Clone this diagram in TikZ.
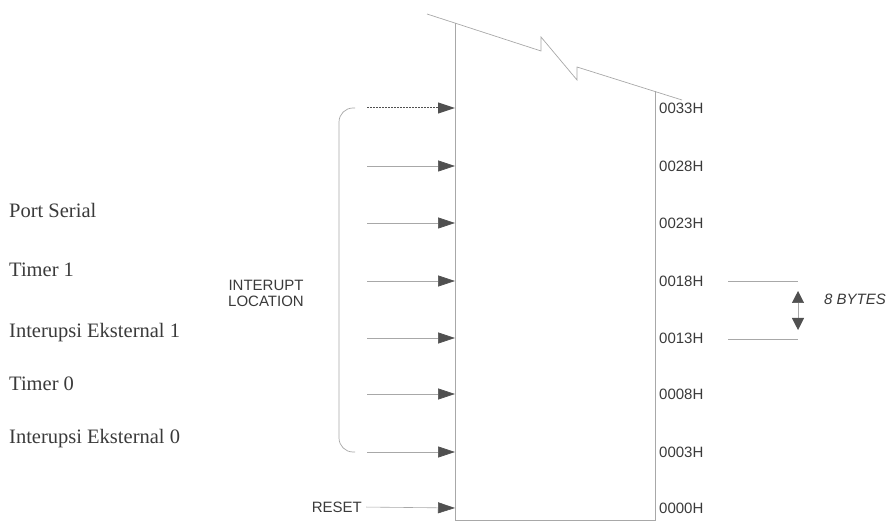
\documentclass[tikz,border=0pt]{standalone}
\usepackage{fontspec}
\setmainfont{Liberation Serif}
\setsansfont{Liberation Sans}
\usepackage{tikz}
\usetikzlibrary{positioning,arrows.meta}
\definecolor{linegray}{HTML}{A8A8A8}
\definecolor{headgray}{HTML}{505050}
\definecolor{textgray}{HTML}{3A3A3A}

\begin{document}
\begin{tikzpicture}[x=1pt,y=1pt,
  addr/.style={font=\sffamily\fontsize{15}{16}\selectfont,text=textgray,inner sep=0pt},
  src/.style={font=\fontsize{20.5}{21}\selectfont,text=textgray,anchor=base west,inner sep=0pt},
  box/.style={draw=linegray,line width=0.7pt},
  arr/.style={-{Triangle[length=17pt,width=11pt,color=headgray]},draw=linegray,line width=0.6pt},
  dim/.style={{Triangle[length=12pt,width=12pt,color=headgray]}-{Triangle[length=12pt,width=12pt,color=headgray]},draw=linegray,line width=0.5pt}
]
  \useasboundingbox (0,0) rectangle (890,522);

  % memory block with broken top
  \draw[box] (455,499) -- (455,2) -- (655,2) -- (655,431);
  \draw[box] (427,508) -- (541,471) -- (541,485) -- (577,442) -- (577,455) -- (682,422);

  % entry points on the left edge
  \coordinate (e0) at (455,14);
  \coordinate (e1) at (455,70);
  \coordinate (e2) at (455,128);
  \coordinate (e3) at (455,184);
  \coordinate (e4) at (455,241);
  \coordinate (e5) at (455,299);
  \coordinate (e6) at (455,356);
  \coordinate (e7) at (455,414);
  \coordinate (s1) at (367,70);
  \coordinate (s2) at (367,128);
  \coordinate (s3) at (367,184);
  \coordinate (s4) at (367,241);
  \coordinate (s5) at (367,299);
  \coordinate (s6) at (367,356);
  \coordinate (s7) at (367,414);

  % addresses
  \node[addr,anchor=west] (a0) at (659,14) {0000H};
  \node[addr,anchor=west] (a1) at (659,70) {0003H};
  \node[addr,anchor=west] (a2) at (659,128) {0008H};
  \node[addr,anchor=west] (a3) at (659,184) {0013H};
  \node[addr,anchor=west] (a4) at (659,241) {0018H};
  \node[addr,anchor=west] (a5) at (659,299) {0023H};
  \node[addr,anchor=west] (a6) at (659,356) {0028H};
  \node[addr,anchor=west] (a7) at (659,414) {0033H};

  % interrupt sources
  \node[src] (ps) at (9,304) {Port Serial};
  \node[src] (t1) at (9,245) {Timer 1};
  \node[src] (ie1) at (9,184) {Interupsi Eksternal 1};
  \node[src] (t0) at (9,132) {Timer 0};
  \node[src] (ie0) at (9,79) {Interupsi Eksternal 0};

  \node[addr,align=center] (loc) at (266,229) {INTERUPT\\LOCATION};
  \node[addr,anchor=east] (reset) at (362,15) {RESET};

  \draw[arr,shorten <=4pt] (reset.east) -- (e0);
  \draw[arr] (s1) -- (e1);
  \draw[arr] (s2) -- (e2);
  \draw[arr] (s3) -- (e3);
  \draw[arr] (s4) -- (e4);
  \draw[arr] (s5) -- (e5);
  \draw[arr] (s6) -- (e6);
  \draw[arr,draw=headgray,line width=1pt,dash pattern=on 2pt off 1pt] (s7) -- (e7);

  % bracket
  \draw[box,rounded corners=14pt] (355,414) -- (339,414) -- (339,70) -- (355,70);

  % 8 bytes
  \coordinate (m4) at (728,241);
  \coordinate (m3) at (728,183);
  \coordinate (d4) at (798,241);
  \coordinate (d3) at (798,183);
  \draw[box,line width=0.5pt] (m4) -- (d4);
  \draw[box,line width=0.5pt] (m3) -- (d3);
  \draw[dim] (798,231) -- (798,192);
  \node[addr,anchor=base west,font=\sffamily\itshape\fontsize{15}{16}\selectfont] (bytes) at (824,217) {8 BYTES};
\end{tikzpicture}
\end{document}
